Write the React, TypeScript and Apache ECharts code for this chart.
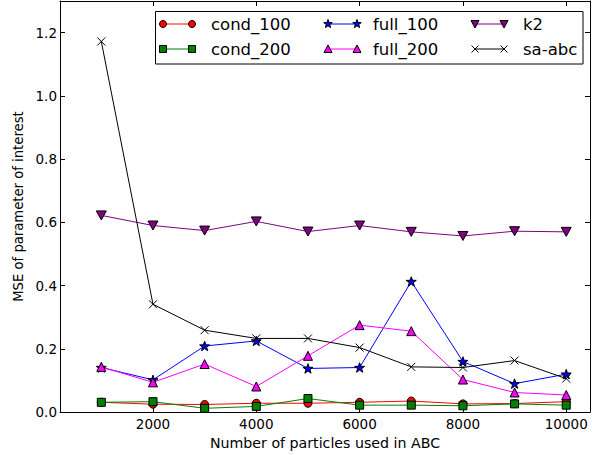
import React, { useEffect, useRef } from "react";
import * as echarts from "echarts";

const particles = [1000, 2000, 3000, 4000, 5000, 6000, 7000, 8000, 9000, 10000];
const cond100 = [0.031, 0.025, 0.024, 0.028, 0.028, 0.031, 0.035, 0.026, 0.027, 0.033];
const cond200 = [0.031, 0.033, 0.012, 0.018, 0.043, 0.022, 0.022, 0.020, 0.026, 0.022];
const full100 = [0.141, 0.102, 0.209, 0.225, 0.138, 0.141, 0.413, 0.160, 0.090, 0.120];
const full200 = [0.143, 0.094, 0.152, 0.081, 0.178, 0.275, 0.256, 0.103, 0.062, 0.054];
const k2 = [0.622, 0.590, 0.574, 0.603, 0.571, 0.590, 0.570, 0.557, 0.572, 0.570];
const saAbc = [1.172, 0.341, 0.259, 0.233, 0.233, 0.204, 0.143, 0.141, 0.163, 0.106];

const xTicks = [2000, 4000, 6000, 8000, 10000];
const yTicks = [0, 0.2, 0.4, 0.6, 0.8, 1.0, 1.2];

const FONT = "DejaVu Sans";

function starPoints(cx: number, cy: number, R: number, r: number): number[][] {
  const pts: number[][] = [];
  for (let i = 0; i < 10; i++) {
    const rad = i % 2 === 0 ? R : r;
    const a = -Math.PI / 2 + (i * Math.PI) / 5;
    pts.push([cx + rad * Math.cos(a), cy + rad * Math.sin(a)]);
  }
  return pts;
}
const starPath =
  "path://" +
  starPoints(10, 10, 10, 4)
    .map((p, i) => (i === 0 ? "M" : "L") + p[0].toFixed(2) + "," + p[1].toFixed(2))
    .join("") +
  "Z";
const downTriPath = "path://M0,0L20,0L10,18Z";
const xPath = "path://M0,0L10,10M10,0L0,10";

type Spec = {
  name: string;
  data: number[];
  color: string;
  symbol: string;
  size: number;
  marker: string;
};

const specs: Spec[] = [
  { name: "cond_100", data: cond100, color: "#ff0000", symbol: "circle", size: 8, marker: "circle" },
  { name: "cond_200", data: cond200, color: "#008000", symbol: "rect", size: 8, marker: "rect" },
  { name: "full_100", data: full100, color: "#0000ff", symbol: starPath, size: 10, marker: "star" },
  { name: "full_200", data: full200, color: "#ff00ff", symbol: "triangle", size: 9, marker: "tri" },
  { name: "k2", data: k2, color: "#800080", symbol: downTriPath, size: 10, marker: "dtri" },
  { name: "sa-abc", data: saAbc, color: "#000000", symbol: xPath, size: 8, marker: "x" },
];

function legendMarker(kind: string, cx: number, cy: number, color: string): any[] {
  const edge = { stroke: "#000", lineWidth: 1 };
  const z = 102;
  if (kind === "circle") return [{ type: "circle", z, shape: { cx, cy, r: 3.5 }, style: { fill: color, ...edge } }];
  if (kind === "rect") return [{ type: "rect", z, shape: { x: cx - 3.5, y: cy - 3.5, width: 7, height: 7 }, style: { fill: color, ...edge } }];
  if (kind === "star") return [{ type: "polygon", z, shape: { points: starPoints(cx, cy, 4.5, 1.8) }, style: { fill: color, ...edge } }];
  if (kind === "tri") return [{ type: "polygon", z, shape: { points: [[cx, cy - 4], [cx + 4, cy + 3.5], [cx - 4, cy + 3.5]] }, style: { fill: color, ...edge } }];
  if (kind === "dtri") return [{ type: "polygon", z, shape: { points: [[cx - 4, cy - 3.5], [cx + 4, cy - 3.5], [cx, cy + 4]] }, style: { fill: color, ...edge } }];
  return [
    { type: "line", z, shape: { x1: cx - 3.5, y1: cy - 3.5, x2: cx + 3.5, y2: cy + 3.5 }, style: { stroke: color, lineWidth: 1 } },
    { type: "line", z, shape: { x1: cx + 3.5, y1: cy - 3.5, x2: cx - 3.5, y2: cy + 3.5 }, style: { stroke: color, lineWidth: 1 } },
  ];
}

export default function App() {
  const ref = useRef<HTMLDivElement>(null);
  useEffect(() => {
    document.body.style.margin = "0";
    if (!ref.current) return;
    const chart = echarts.init(ref.current, null, { renderer: "svg" });

    const colX = [163, 328, 475];
    const textX = [211, 373, 523];
    const rowY = [24, 49];
    const legendEls: any[] = [
      { type: "rect", shape: { x: 155.5, y: 11.5, width: 427.5, height: 52.5 }, style: { fill: "#fff", stroke: "#000", lineWidth: 1 }, z: 100 },
    ];
    specs.forEach((s, i) => {
      const col = Math.floor(i / 2);
      const row = i % 2;
      const x1 = colX[col];
      const x2 = x1 + 29;
      const y = rowY[row];
      legendEls.push({ type: "line", shape: { x1, y1: y, x2, y2: y }, style: { stroke: s.color, lineWidth: 1 }, z: 101 });
      legendEls.push(...legendMarker(s.marker, x1, y, s.color));
      legendEls.push(...legendMarker(s.marker, x2, y, s.color));
      legendEls.push({
        type: "text",
        x: textX[col],
        y,
        style: { text: s.name, fill: "#000", font: `16.5px ${FONT}`, textVerticalAlign: "middle", textAlign: "left" },
        z: 102,
      });
    });

    const axisLineStyle = { lineStyle: { color: "#000", width: 1 } };
    chart.setOption({
      animation: false,
      backgroundColor: "#fff",
      textStyle: { fontFamily: FONT },
      grid: { left: 60, right: 5, top: 1, bottom: 42, containLabel: false },
      xAxis: [
        {
          type: "value",
          min: 200,
          max: 10460,
          position: "bottom",
          axisLine: { show: true, ...axisLineStyle },
          axisTick: { show: true, inside: true, length: 5, customValues: xTicks, lineStyle: { color: "#000" } },
          axisLabel: {
            show: true,
            customValues: xTicks,
            color: "#000",
            fontSize: 13.5,
            fontFamily: FONT,
            margin: 5,
            formatter: (v: number) => String(v),
          },
          splitLine: { show: false },
          name: "Number of particles used in ABC",
          nameLocation: "middle",
          nameGap: 22,
          nameTextStyle: { color: "#000", fontSize: 14.2, fontFamily: FONT, verticalAlign: "top" },
        },
        {
          type: "value",
          min: 200,
          max: 10460,
          position: "top",
          axisLine: { show: true, onZero: false, ...axisLineStyle },
          axisTick: { show: true, inside: true, length: 5, customValues: xTicks, lineStyle: { color: "#000" } },
          axisLabel: { show: false },
          splitLine: { show: false },
        },
      ],
      yAxis: [
        {
          type: "value",
          min: 0,
          max: 1.3,
          position: "left",
          axisLine: { show: true, onZero: false, ...axisLineStyle },
          axisTick: { show: true, inside: true, length: 5, customValues: yTicks, lineStyle: { color: "#000" } },
          axisLabel: {
            show: true,
            customValues: yTicks,
            color: "#000",
            fontSize: 13.5,
            fontFamily: FONT,
            margin: 3,
            formatter: (v: number) => v.toFixed(1),
          },
          splitLine: { show: false },
          name: "MSE of parameter of interest",
          nameLocation: "middle",
          nameGap: 33,
          nameRotate: 90,
          nameTextStyle: { color: "#000", fontSize: 13.2, fontFamily: FONT },
        },
        {
          type: "value",
          min: 0,
          max: 1.3,
          position: "right",
          axisLine: { show: true, onZero: false, ...axisLineStyle },
          axisTick: { show: true, inside: true, length: 5, customValues: yTicks, lineStyle: { color: "#000" } },
          axisLabel: { show: false },
          splitLine: { show: false },
        },
      ],
      series: specs.map((s) => ({
        name: s.name,
        type: "line",
        xAxisIndex: 0,
        yAxisIndex: 0,
        data: s.data.map((v, i) => [particles[i], v]),
        symbol: s.symbol,
        symbolSize: s.size,
        symbolKeepAspect: true,
        showAllSymbol: true,
        lineStyle: { color: s.color, width: 1 },
        itemStyle: {
          color: s.marker === "x" ? "#000" : s.color,
          borderColor: "#000",
          borderWidth: 1,
        },
        emphasis: { disabled: true },
      })),
      graphic: legendEls,
    });
    return () => chart.dispose();
  }, []);
  return <div ref={ref} style={{ width: 595, height: 455 }} />;
}
